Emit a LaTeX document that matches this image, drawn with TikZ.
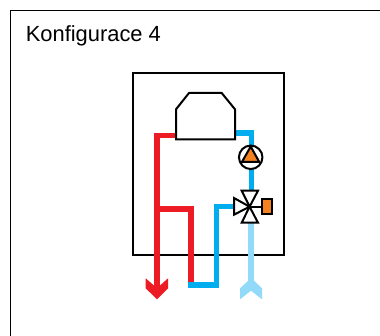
\documentclass[tikz,border=0pt]{standalone}
\usepackage{fontspec}
\setmainfont{Liberation Sans}
\definecolor{hotred}{HTML}{ED1C24}
\definecolor{coldblue}{HTML}{00AEEF}
\definecolor{paleblue}{HTML}{92DAFA}
\definecolor{partorange}{HTML}{F58220}
\tikzset{
  frameline/.style={draw=black,line width=1.2pt},
  boxline/.style={draw=black,line width=2pt,line join=miter},
  hotpipe/.style={draw=hotred,line width=5.2pt,line join=miter},
  coldpipe/.style={draw=coldblue,line width=5.2pt,line join=miter},
  palepipe/.style={draw=paleblue,line width=5.6pt},
  valvetri/.style={draw=black,line width=2pt,fill=white,line join=miter},
  orangepart/.style={draw=black,line width=2pt,fill=partorange,line join=miter},
}
\begin{document}
\begin{tikzpicture}[x=1pt,y=-1pt]
\useasboundingbox (0,0) rectangle (380,336);
\fill[white] (0,0) rectangle (380,336);
\coordinate (fl) at (10.5,336); \coordinate (ft) at (10.5,10.5); \coordinate (fr) at (380,10.5);
\draw[frameline] (fl) -- (ft) -- (fr);
\node[anchor=base west,inner sep=0pt,font=\fontsize{21.9}{24}\selectfont] (title) at (25.6,41.3) {Konfigurace 4};
\node[boxline,rectangle,outer sep=0pt,inner sep=0pt,anchor=north west,minimum width=151.2pt,minimum height=182.5pt] (housing) at (133,72.8) {};
% pipes
\coordinate (cabL) at (176,135.5);
\coordinate (cabR) at (235,133);
\coordinate (hotT) at (157,135.5);
\coordinate (hotB) at (157,287);
\coordinate (hotJ) at (157,209);
\coordinate (hotC) at (191,209);
\coordinate (hotE) at (191,283);
\coordinate (cold1) at (188.3,285);
\coordinate (cold2) at (216.5,285);
\coordinate (cold3) at (216.5,206.5);
\coordinate (valve) at (249.6,206.7);
\coordinate (cold4) at (234,206.5);
\coordinate (coldR) at (251.7,133);
\coordinate (coldV) at (251.7,191);
\coordinate (paleT) at (251,222);
\coordinate (paleB) at (251,282);
\draw[hotpipe] (cabL) -- (hotT) -- (hotB);
\draw[hotpipe] (hotJ) -- (hotC) -- (hotE);
\draw[coldpipe] (cold1) -- (cold2) -- (cold3) -- (cold4);
\draw[coldpipe] (cabR) -- (coldR) -- (coldV);
\draw[palepipe] (paleT) -- (paleB);
\fill[hotred] (145.7,278.3) -- (154.5,286) -- (159.5,286) -- (168,278.3) -- (168,288.3) -- (157,299.3) -- (145.7,288.3) -- cycle;
\fill[paleblue] (240,288.3) -- (248.3,280.7) -- (254,280.7) -- (262,288.3) -- (262,299.3) -- (251,290.7) -- (240,299.3) -- cycle;
% cabinet
\draw[draw=black,line width=2pt,fill=white,line join=miter] (176,139.3) -- (176,109.3) -- (189,93) -- (221.7,93) -- (235,109.3) -- (235,139.3) -- cycle;
% pump
\node[circle,draw=black,line width=2pt,fill=white,minimum size=23.5pt,inner sep=0pt,outer sep=0pt] (pump) at (250.7,157.3) {};
\draw[orangepart] (250.7,146.5) -- (259.3,162) -- (241.9,162) -- cycle;
% valve
\draw[valvetri] (valve) -- (241.7,190.7) -- (258,190.7) -- cycle;
\draw[valvetri] (valve) -- (241.7,222.7) -- (258,222.7) -- cycle;
\draw[valvetri] (valve) -- (234,198) -- (234,214.7) -- cycle;
\node[orangepart,anchor=west,outer sep=0pt,minimum width=10.5pt,minimum height=15.3pt,inner sep=0pt] (actuator) at (261.7,206.7) {};
\draw[draw=black,line width=2pt] (valve) -- (actuator.west);
\end{tikzpicture}
\end{document}
